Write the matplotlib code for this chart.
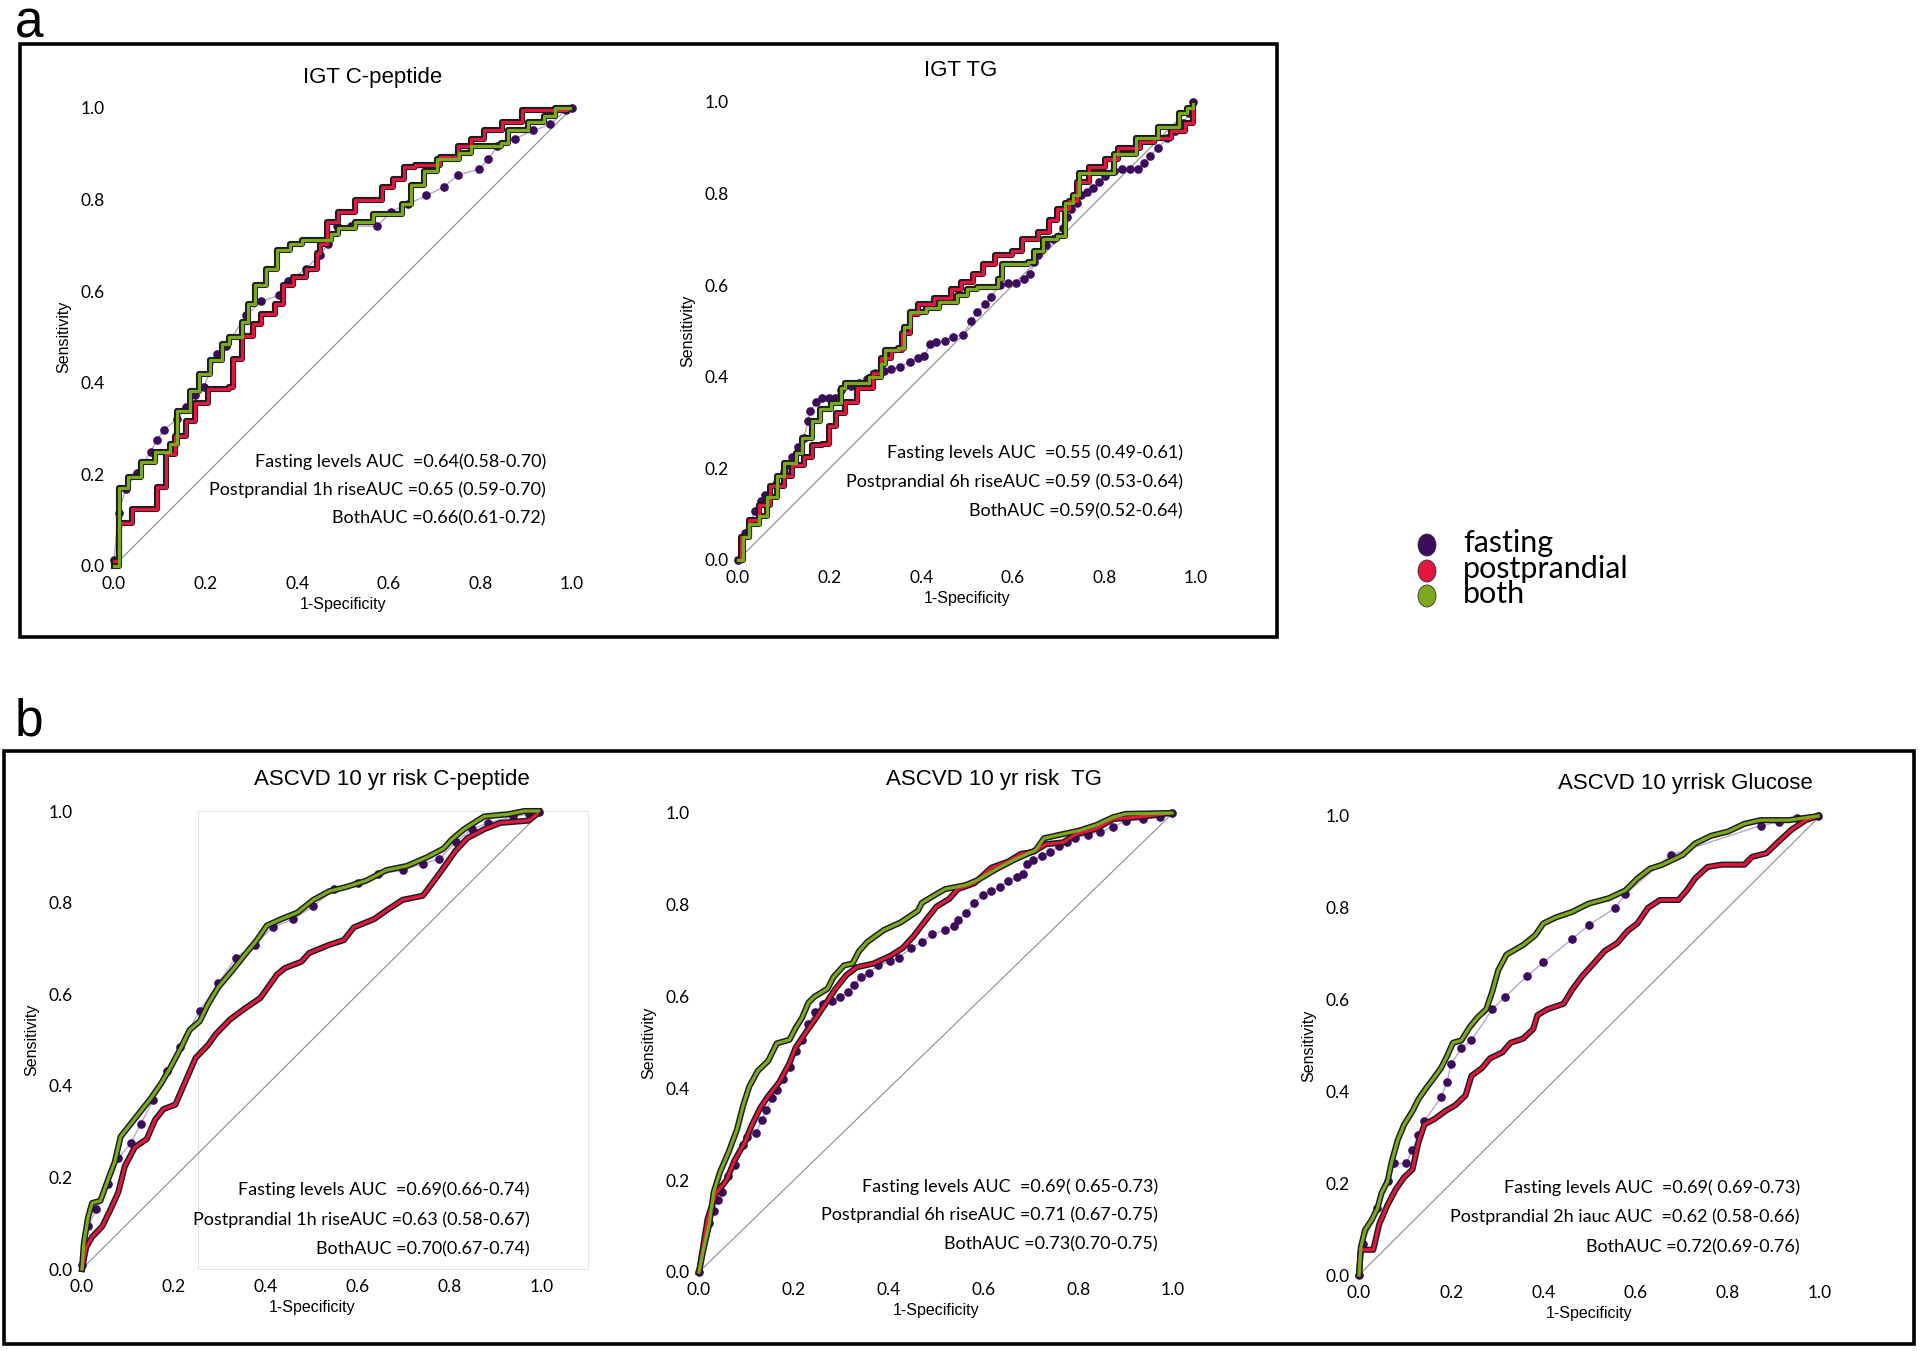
import matplotlib.pyplot as plt
from matplotlib.patches import Rectangle, Ellipse

# ---- data (1-specificity, sensitivity) ----
# IGT C-peptide
igt_cpep_fast_x = [0, 0.01, 0.026, 0.05, 0.08, 0.094, 0.109, 0.138, 0.157, 0.177, 0.196, 0.225, 0.245, 0.288, 0.322,
                   0.361, 0.381, 0.42, 0.449, 0.468, 0.487, 0.517, 0.575, 0.604, 0.643, 0.682, 0.72, 0.75, 0.798,
                   0.817, 0.837, 0.876, 0.915, 0.953, 0.987, 1.0]
igt_cpep_fast_y = [0.013, 0.116, 0.169, 0.204, 0.249, 0.276, 0.298, 0.32, 0.347, 0.373, 0.391, 0.462, 0.48, 0.547, 0.578,
                   0.591, 0.622, 0.649, 0.68, 0.702, 0.742, 0.742, 0.742, 0.773, 0.791, 0.809, 0.827, 0.853, 0.867,
                   0.889, 0.916, 0.933, 0.951, 0.964, 0.996, 1.0]
igt_cpep_post_x = [0, 0.012, 0.04, 0.084, 0.094, 0.114, 0.133, 0.157, 0.177, 0.206, 0.25, 0.26, 0.279, 0.303, 0.322,
                   0.351, 0.37, 0.39, 0.42, 0.444, 0.449, 0.464, 0.488, 0.526, 0.585, 0.609, 0.633, 0.658, 0.711,
                   0.75, 0.779, 0.808, 0.847, 0.89, 0.944, 0.99]
igt_cpep_post_y = [0.01, 0.093, 0.124, 0.124, 0.173, 0.244, 0.284, 0.316, 0.356, 0.387, 0.391, 0.453, 0.502, 0.529, 0.551,
                   0.573, 0.613, 0.631, 0.649, 0.684, 0.702, 0.751, 0.773, 0.8, 0.827, 0.844, 0.871, 0.876, 0.893,
                   0.916, 0.933, 0.951, 0.969, 0.996, 0.996, 1.0]
igt_cpep_both_x = [0, 0.012, 0.03, 0.06, 0.09, 0.123, 0.138, 0.167, 0.186, 0.21, 0.235, 0.25, 0.28, 0.293, 0.308, 0.332,
                   0.356, 0.385, 0.41, 0.473, 0.488, 0.526, 0.565, 0.628, 0.648, 0.677, 0.706, 0.754, 0.779, 0.846,
                   0.86, 0.905, 0.939, 0.963, 0.995]
igt_cpep_both_y = [0, 0.17, 0.195, 0.227, 0.25, 0.267, 0.338, 0.382, 0.42, 0.45, 0.485, 0.5, 0.533, 0.573, 0.613, 0.649,
                   0.689, 0.702, 0.711, 0.724, 0.738, 0.751, 0.769, 0.791, 0.831, 0.862, 0.889, 0.902, 0.916, 0.924,
                   0.951, 0.969, 0.982, 1.0, 1.0]

# IGT TG
igt_tg_fast_x = [0, 0.015, 0.028, 0.037, 0.051, 0.06, 0.082, 0.1, 0.109, 0.117, 0.131, 0.144, 0.153, 0.157, 0.171,
                 0.184, 0.198, 0.211, 0.224, 0.246, 0.264, 0.282, 0.3, 0.318, 0.335, 0.353, 0.376, 0.393, 0.407,
                 0.42, 0.433, 0.451, 0.469, 0.491, 0.509, 0.522, 0.54, 0.553, 0.571, 0.589, 0.607, 0.625, 0.638,
                 0.647, 0.656, 0.673, 0.687, 0.709, 0.718, 0.727, 0.74, 0.749, 0.762, 0.776, 0.789, 0.802, 0.82,
                 0.838, 0.856, 0.874, 0.887, 0.9, 0.918, 0.936, 0.954, 0.972, 0.985, 0.994]
igt_tg_fast_y = [0, 0.058, 0.083, 0.108, 0.129, 0.142, 0.167, 0.192, 0.208, 0.225, 0.246, 0.267, 0.304, 0.325, 0.346,
                 0.354, 0.354, 0.354, 0.371, 0.379, 0.3875, 0.396, 0.408, 0.4125, 0.417, 0.421, 0.433, 0.442, 0.446,
                 0.471, 0.475, 0.479, 0.4875, 0.492, 0.521, 0.542, 0.558, 0.575, 0.6, 0.604, 0.604, 0.6125, 0.625,
                 0.65, 0.667, 0.6875, 0.7, 0.725, 0.75, 0.767, 0.779, 0.796, 0.804, 0.8125, 0.825, 0.8375, 0.85,
                 0.854, 0.854, 0.854, 0.867, 0.883, 0.9, 0.921, 0.9375, 0.954, 0.975, 1.0]
igt_tg_post_x = [0, 0.006, 0.024, 0.046, 0.069, 0.1, 0.117, 0.144, 0.162, 0.184, 0.198, 0.215, 0.233, 0.26, 0.295,
                 0.313, 0.335, 0.358, 0.376, 0.393, 0.429, 0.464, 0.487, 0.513, 0.535, 0.562, 0.598, 0.62, 0.656,
                 0.678, 0.696, 0.722, 0.74, 0.767, 0.802, 0.829, 0.878, 0.909, 0.945, 0.976, 0.994]
igt_tg_post_y = [0, 0.05, 0.0875, 0.121, 0.1625, 0.183, 0.208, 0.225, 0.25, 0.254, 0.292, 0.321, 0.346, 0.375, 0.408,
                 0.442, 0.458, 0.496, 0.5375, 0.558, 0.571, 0.592, 0.608, 0.625, 0.646, 0.667, 0.675, 0.7, 0.717,
                 0.742, 0.767, 0.783, 0.825, 0.858, 0.875, 0.9, 0.9125, 0.921, 0.9375, 0.954, 0.9875]
igt_tg_both_x = [0, 0.011, 0.024, 0.046, 0.064, 0.086, 0.1, 0.126, 0.14, 0.162, 0.18, 0.202, 0.224, 0.233, 0.269, 0.287,
                 0.313, 0.322, 0.349, 0.362, 0.376, 0.411, 0.438, 0.478, 0.5, 0.522, 0.555, 0.567, 0.576, 0.633,
                 0.647, 0.665, 0.696, 0.714, 0.731, 0.745, 0.794, 0.82, 0.869, 0.918, 0.945, 0.963, 0.98, 0.994]
igt_tg_both_y = [0, 0.05, 0.079, 0.096, 0.1375, 0.183, 0.2125, 0.233, 0.267, 0.304, 0.329, 0.342, 0.375, 0.3875, 0.3875,
                 0.4, 0.429, 0.458, 0.4625, 0.508, 0.542, 0.55, 0.5625, 0.579, 0.592, 0.596, 0.596, 0.6125, 0.646,
                 0.65, 0.675, 0.7, 0.708, 0.779, 0.796, 0.846, 0.846, 0.8875, 0.921, 0.946, 0.946, 0.975, 0.9875, 0.996]

# ASCVD 10 yr risk C-peptide
asc_cpep_fast_x = [0, 0.013, 0.031, 0.057, 0.079, 0.106, 0.128, 0.154, 0.185, 0.212, 0.256, 0.296, 0.335, 0.375, 0.415,
                   0.459, 0.503, 0.547, 0.6, 0.644, 0.698, 0.741, 0.777, 0.812, 0.847, 0.883, 0.936, 0.971, 0.993]
asc_cpep_fast_y = [0.009, 0.093, 0.13, 0.186, 0.242, 0.275, 0.317, 0.368, 0.433, 0.485, 0.564, 0.624, 0.68, 0.708, 0.746,
                   0.764, 0.792, 0.829, 0.843, 0.862, 0.871, 0.885, 0.895, 0.932, 0.96, 0.974, 0.988, 0.993, 0.998]
asc_cpep_post_x = [0, 0.009, 0.022, 0.044, 0.062, 0.079, 0.093, 0.115, 0.141, 0.159, 0.177, 0.203, 0.225, 0.247, 0.274,
                   0.291, 0.322, 0.353, 0.388, 0.424, 0.441, 0.477, 0.494, 0.538, 0.569, 0.591, 0.635, 0.662, 0.697,
                   0.741, 0.759, 0.786, 0.812, 0.838, 0.874, 0.909, 0.971, 0.989]
asc_cpep_post_y = [0, 0.047, 0.07, 0.093, 0.13, 0.168, 0.224, 0.266, 0.284, 0.326, 0.349, 0.359, 0.41, 0.461, 0.489,
                   0.513, 0.545, 0.568, 0.592, 0.643, 0.657, 0.671, 0.69, 0.708, 0.718, 0.746, 0.764, 0.783, 0.806,
                   0.815, 0.839, 0.876, 0.913, 0.941, 0.96, 0.974, 0.979, 0.993]
asc_cpep_both_x = [0, 0.004, 0.013, 0.022, 0.04, 0.057, 0.071, 0.084, 0.106, 0.128, 0.15, 0.172, 0.194, 0.216, 0.234,
                   0.256, 0.274, 0.296, 0.327, 0.353, 0.38, 0.402, 0.433, 0.468, 0.503, 0.538, 0.574, 0.618, 0.662,
                   0.706, 0.75, 0.786, 0.803, 0.83, 0.874, 0.927, 0.962, 0.993]
asc_cpep_both_y = [0, 0.056, 0.112, 0.144, 0.149, 0.196, 0.233, 0.289, 0.317, 0.345, 0.373, 0.405, 0.443, 0.485, 0.522,
                   0.541, 0.578, 0.615, 0.652, 0.685, 0.718, 0.75, 0.764, 0.778, 0.806, 0.825, 0.834, 0.848, 0.871,
                   0.88, 0.899, 0.918, 0.937, 0.96, 0.988, 0.993, 1.0, 1.0]

# ASCVD 10 yr risk TG
asc_tg_fast_x = [0, 0.022, 0.031, 0.04, 0.049, 0.062, 0.075, 0.093, 0.102, 0.12, 0.133, 0.142, 0.155, 0.164, 0.177,
                 0.191, 0.204, 0.217, 0.231, 0.244, 0.262, 0.28, 0.297, 0.315, 0.328, 0.342, 0.359, 0.377, 0.404,
                 0.421, 0.448, 0.47, 0.492, 0.519, 0.537, 0.546, 0.563, 0.581, 0.599, 0.617, 0.634, 0.652, 0.67,
                 0.683, 0.692, 0.705, 0.723, 0.741, 0.759, 0.776, 0.794, 0.821, 0.847, 0.874, 0.9, 0.936, 0.972,
                 0.998]
asc_tg_fast_y = [0, 0.106, 0.132, 0.157, 0.174, 0.209, 0.234, 0.277, 0.294, 0.302, 0.332, 0.353, 0.379, 0.396, 0.421,
                 0.447, 0.481, 0.506, 0.54, 0.566, 0.583, 0.591, 0.6, 0.609, 0.626, 0.643, 0.651, 0.668, 0.677,
                 0.685, 0.706, 0.719, 0.736, 0.745, 0.753, 0.766, 0.783, 0.804, 0.821, 0.83, 0.838, 0.851, 0.86,
                 0.868, 0.889, 0.898, 0.906, 0.915, 0.928, 0.936, 0.945, 0.953, 0.959, 0.97, 0.983, 0.987, 0.991,
                 1.0]
asc_tg_post_x = [0, 0.018, 0.035, 0.058, 0.075, 0.098, 0.111, 0.129, 0.146, 0.169, 0.191, 0.204, 0.226, 0.244, 0.266,
                 0.288, 0.311, 0.333, 0.368, 0.404, 0.43, 0.453, 0.475, 0.501, 0.528, 0.546, 0.581, 0.617, 0.652,
                 0.679, 0.705, 0.732, 0.768, 0.794, 0.839, 0.874, 0.927, 0.994]
asc_tg_post_y = [0, 0.115, 0.17, 0.2, 0.243, 0.285, 0.319, 0.357, 0.383, 0.413, 0.455, 0.489, 0.523, 0.549, 0.583,
                 0.617, 0.647, 0.664, 0.672, 0.689, 0.706, 0.732, 0.762, 0.796, 0.813, 0.834, 0.847, 0.881, 0.894,
                 0.911, 0.915, 0.932, 0.936, 0.953, 0.966, 0.987, 0.991, 1.0]
asc_tg_both_x = [0, 0.009, 0.022, 0.031, 0.044, 0.062, 0.08, 0.093, 0.106, 0.124, 0.146, 0.164, 0.191, 0.204, 0.217,
                 0.231, 0.244, 0.271, 0.284, 0.306, 0.324, 0.337, 0.355, 0.39, 0.426, 0.462, 0.47, 0.497, 0.519,
                 0.563, 0.59, 0.626, 0.665, 0.71, 0.728, 0.763, 0.803, 0.839, 0.874, 0.9, 0.998]
asc_tg_both_y = [0, 0.047, 0.106, 0.174, 0.217, 0.26, 0.31, 0.362, 0.404, 0.438, 0.46, 0.498, 0.506, 0.532, 0.553,
                 0.587, 0.6, 0.617, 0.643, 0.668, 0.672, 0.698, 0.719, 0.745, 0.762, 0.787, 0.804, 0.821, 0.834,
                 0.843, 0.855, 0.877, 0.898, 0.919, 0.945, 0.953, 0.962, 0.974, 0.991, 0.998, 1.0]

# ASCVD 10 yr risk Glucose
asc_glu_fast_x = [0, 0.009, 0.04, 0.062, 0.076, 0.102, 0.116, 0.129, 0.142, 0.178, 0.191, 0.2, 0.222, 0.244, 0.289,
                  0.316, 0.364, 0.4, 0.462, 0.498, 0.556, 0.578, 0.676, 0.871, 0.911, 0.951, 0.996]
asc_glu_fast_y = [0, 0.068, 0.145, 0.204, 0.243, 0.243, 0.272, 0.306, 0.336, 0.387, 0.421, 0.46, 0.494, 0.511, 0.579,
                  0.605, 0.651, 0.681, 0.732, 0.762, 0.8, 0.83, 0.915, 0.979, 0.987, 0.996, 1.0]
asc_glu_post_x = [0, 0.004, 0.031, 0.044, 0.062, 0.08, 0.098, 0.116, 0.129, 0.142, 0.164, 0.187, 0.209, 0.231, 0.244,
                  0.267, 0.284, 0.311, 0.329, 0.356, 0.378, 0.387, 0.409, 0.444, 0.462, 0.484, 0.511, 0.533, 0.56,
                  0.582, 0.604, 0.627, 0.653, 0.693, 0.711, 0.729, 0.756, 0.787, 0.836, 0.853, 0.884, 0.911, 0.938,
                  0.969, 0.996]
asc_glu_post_y = [0, 0.055, 0.055, 0.111, 0.153, 0.187, 0.213, 0.23, 0.289, 0.328, 0.34, 0.357, 0.37, 0.391, 0.434,
                  0.451, 0.472, 0.485, 0.506, 0.515, 0.536, 0.566, 0.579, 0.591, 0.621, 0.651, 0.681, 0.706, 0.723,
                  0.749, 0.766, 0.8, 0.817, 0.817, 0.838, 0.864, 0.889, 0.894, 0.894, 0.911, 0.919, 0.945, 0.97,
                  0.991, 1.0]
asc_glu_both_x = [0, 0.004, 0.013, 0.027, 0.04, 0.049, 0.062, 0.071, 0.084, 0.098, 0.116, 0.129, 0.147, 0.16, 0.178,
                  0.191, 0.204, 0.222, 0.24, 0.258, 0.276, 0.289, 0.302, 0.32, 0.356, 0.382, 0.4, 0.427, 0.462,
                  0.498, 0.542, 0.578, 0.604, 0.631, 0.658, 0.702, 0.729, 0.764, 0.8, 0.836, 0.871, 0.933, 0.996]
asc_glu_both_y = [0, 0.06, 0.098, 0.119, 0.145, 0.179, 0.204, 0.247, 0.294, 0.328, 0.357, 0.383, 0.409, 0.426, 0.451,
                  0.477, 0.506, 0.511, 0.54, 0.562, 0.579, 0.617, 0.664, 0.698, 0.719, 0.74, 0.766, 0.779, 0.791,
                  0.809, 0.821, 0.838, 0.864, 0.885, 0.894, 0.915, 0.94, 0.957, 0.966, 0.983, 0.991, 0.991, 1.0]

ticks = [0.0, 0.2, 0.4, 0.6, 0.8, 1.0]
tick_labels = ['0.0', '0.2', '0.4', '0.6', '0.8', '1.0']
legend_labels = ['fasting', 'postprandial', 'both']

PURPLE = '#3c0b5c'
LAVENDER = '#b9a3d3'
RED = '#e2173f'
GREEN = '#7ba91c'

W, H = 1920, 1351
fig = plt.figure(figsize=(19.2, 13.51), dpi=100)


def rect(x0, x1, ytop, ybot):
    return [x0 / W, 1 - ybot / H, (x1 - x0) / W, (ybot - ytop) / H]


def ftext(px, py, s, **kw):
    fig.text(px / W, 1 - py / H, s, **kw)


def draw_roc(ax, fast, post, both, steps):
    ax.plot([0, 1], [0, 1], color='#8c8c8c', lw=0.8, zorder=1)
    ds = 'steps-post' if steps else 'default'
    ax.plot(fast[0], fast[1], color=LAVENDER, lw=1.0, zorder=3, clip_on=False)
    ax.plot(fast[0], fast[1], ls='none', marker='o', ms=5.2, color=PURPLE, zorder=4, clip_on=False)
    for (xs, ys), c in [(post, RED), (both, GREEN)]:
        ax.plot(xs, ys, color='#1c1c1c', lw=4.4, drawstyle=ds, zorder=5, clip_on=False)
        ax.plot(xs, ys, color=c, lw=2.3, drawstyle=ds, zorder=6, clip_on=False)
    ax.set_xlim(0, 1)
    ax.set_ylim(0, 1)
    ax.set_xticks(ticks)
    ax.set_xticklabels(tick_labels)
    ax.set_yticks(ticks)
    ax.set_yticklabels(tick_labels)
    ax.tick_params(length=0, pad=7, labelsize=12.5)
    for lab in ax.get_xticklabels() + ax.get_yticklabels():
        lab.set_fontfamily('Lato')
    for sp in ax.spines.values():
        sp.set_visible(False)
    ax.set_xlabel('1-Specificity', fontsize=11.5, family='Liberation Sans', labelpad=4)
    ax.set_ylabel('Sensitivity', fontsize=11.5, family='Liberation Sans', labelpad=6)
    ax.patch.set_alpha(0)


panels = [
    dict(r=rect(114, 572, 108, 566), title='IGT C-peptide', tpos=(373, 77),
         fast=(igt_cpep_fast_x, igt_cpep_fast_y), post=(igt_cpep_post_x, igt_cpep_post_y),
         both=(igt_cpep_both_x, igt_cpep_both_y), steps=True,
         auc=['Fasting levels AUC  =0.64(0.58-0.70)', 'Postprandial 1h riseAUC =0.65 (0.59-0.70)',
              'BothAUC =0.66(0.61-0.72)'], apos=(546, [462, 490, 518])),
    dict(r=rect(738, 1196, 102, 560), title='IGT TG', tpos=(961, 70),
         fast=(igt_tg_fast_x, igt_tg_fast_y), post=(igt_tg_post_x, igt_tg_post_y),
         both=(igt_tg_both_x, igt_tg_both_y), steps=True,
         auc=['Fasting levels AUC  =0.55 (0.49-0.61)', 'Postprandial 6h riseAUC =0.59 (0.53-0.64)',
              'BothAUC =0.59(0.52-0.64)'], apos=(1183, [453, 482, 511])),
    dict(r=rect(82, 542, 811, 1269), title='ASCVD 10 yr risk C-peptide', tpos=(392, 779),
         fast=(asc_cpep_fast_x, asc_cpep_fast_y), post=(asc_cpep_post_x, asc_cpep_post_y),
         both=(asc_cpep_both_x, asc_cpep_both_y), steps=False,
         auc=['Fasting levels AUC  =0.69(0.66-0.74)', 'Postprandial 1h riseAUC =0.63 (0.58-0.67)',
              'BothAUC =0.70(0.67-0.74)'], apos=(530, [1190, 1220, 1249])),
    dict(r=rect(699, 1173, 813, 1272), title='ASCVD 10 yr risk  TG', tpos=(994, 779),
         fast=(asc_tg_fast_x, asc_tg_fast_y), post=(asc_tg_post_x, asc_tg_post_y),
         both=(asc_tg_both_x, asc_tg_both_y), steps=False,
         auc=['Fasting levels AUC  =0.69( 0.65-0.73)', 'Postprandial 6h riseAUC =0.71 (0.67-0.75)',
              'BothAUC =0.73(0.70-0.75)'], apos=(1158, [1187, 1215, 1244])),
    dict(r=rect(1359, 1820, 816, 1275), title='ASCVD 10 yrrisk Glucose', tpos=(1685, 784),
         fast=(asc_glu_fast_x, asc_glu_fast_y), post=(asc_glu_post_x, asc_glu_post_y),
         both=(asc_glu_both_x, asc_glu_both_y), steps=False,
         auc=['Fasting levels AUC  =0.69( 0.69-0.73)', 'Postprandial 2h iauc AUC  =0.62 (0.58-0.66)',
              'BothAUC =0.72(0.69-0.76)'], apos=(1800, [1188, 1217, 1247])),
]

axes = []
for p in panels:
    ax = fig.add_axes(p['r'])
    draw_roc(ax, p['fast'], p['post'], p['both'], p['steps'])
    axes.append(ax)
    ftext(p['tpos'][0], p['tpos'][1], p['title'], ha='center', va='center', fontsize=16,
          family='Liberation Sans')
    xr, ys = p['apos']
    for s, y in zip(p['auc'], ys):
        ftext(xr, y, s, ha='right', va='center', fontsize=13, family='Lato')

# faint leftover frame inside the first ASCVD plot
axes[2].add_patch(Rectangle((0.253, 0), 0.846, 1.0, fill=False, ec='#e4e4e4', lw=0.8,
                            clip_on=False, zorder=0))

# panel frames and letters
fig.add_artist(Rectangle((20 / W, 1 - 637 / H), (1277 - 20) / W, (637 - 44) / H,
                         transform=fig.transFigure, fill=False, ec='black', lw=2.6))
fig.add_artist(Rectangle((4 / W, 1 - 1344 / H), (1914 - 4) / W, (1344 - 751) / H,
                         transform=fig.transFigure, fill=False, ec='black', lw=2.6))
ftext(15, 37, 'a', fontsize=37, family='Liberation Sans', va='baseline')
ftext(15, 735, 'b', fontsize=37, family='Liberation Sans', va='baseline')

# legend
for lab, c, y in zip(legend_labels, [PURPLE, RED, GREEN], [545, 571, 596]):
    fig.add_artist(Ellipse((1427 / W, 1 - y / H), 18 / W, 22 / H, transform=fig.transFigure,
                           fc=c, ec='#333333', lw=0.6))
    ftext(1463, y - 2, lab, fontsize=22, family='Lato', va='center', ha='left')

fig.savefig('out.png', dpi=100, facecolor='white')
